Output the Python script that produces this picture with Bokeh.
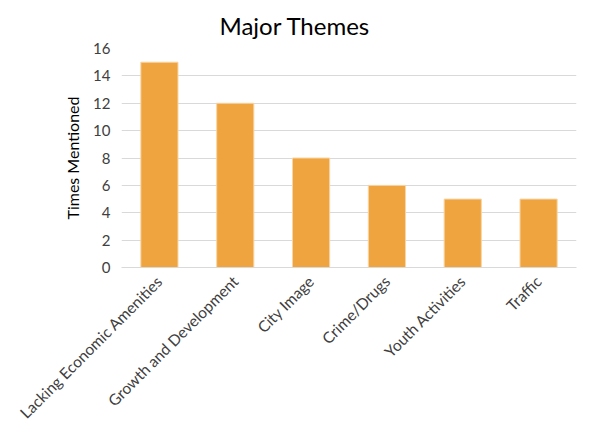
from math import pi

from bokeh.plotting import figure
from bokeh.embed import file_html
from bokeh.resources import INLINE
from bokeh.models import SingleIntervalTicker

themes = ["Lacking Economic Amenities", "Growth and Development", "City Image",
          "Crime/Drugs", "Youth Activities", "Traffic"]
mentions = [15, 12, 8, 6, 5, 5]

FONT = "Lato"
TEXT = "#404040"

p = figure(x_range=themes, y_range=(0, 16), frame_width=455, frame_height=219,
           output_backend="svg", toolbar_location=None,
           min_border_left=121, min_border_right=4, min_border_bottom=4,
           min_border_top=0)

p.vbar(x=themes, top=mentions, width=0.49, color="#F0A43F",
       line_color="#F7D5A6", line_width=1)

p.title.text = "Major Themes"
p.title.text_font = FONT
p.title.text_font_size = "24px"
p.title.text_font_style = "normal"
p.title.text_color = "#000000"
p.title.align = "left"
p.title.offset = 98
p.title.standoff = 17

p.yaxis.ticker = SingleIntervalTicker(interval=2)
p.yaxis.axis_label = "Times Mentioned"
p.yaxis.axis_label_text_font = FONT
p.yaxis.axis_label_text_font_size = "16px"
p.yaxis.axis_label_text_font_style = "normal"
p.yaxis.axis_label_text_color = "#000000"
p.yaxis.axis_label_standoff = 8
p.yaxis.axis_line_color = None
p.yaxis.major_tick_line_color = None
p.yaxis.minor_tick_line_color = None
p.yaxis.major_label_text_font = FONT
p.yaxis.major_label_text_font_size = "15px"
p.yaxis.major_label_text_color = TEXT
p.yaxis.major_label_standoff = 5

p.xaxis.major_label_orientation = pi / 4
p.xaxis.major_label_text_font = FONT
p.xaxis.major_label_text_font_size = "15.5px"
p.xaxis.major_label_text_color = TEXT
p.xaxis.axis_line_color = "#D9D9D9"
p.xaxis.major_tick_line_color = None
p.xaxis.major_label_standoff = 5

p.xgrid.grid_line_color = None
p.ygrid.grid_line_color = "#D9D9D9"
p.outline_line_color = None
p.x_range.range_padding = 0

open("out.html", "w").write(file_html(p, INLINE))
